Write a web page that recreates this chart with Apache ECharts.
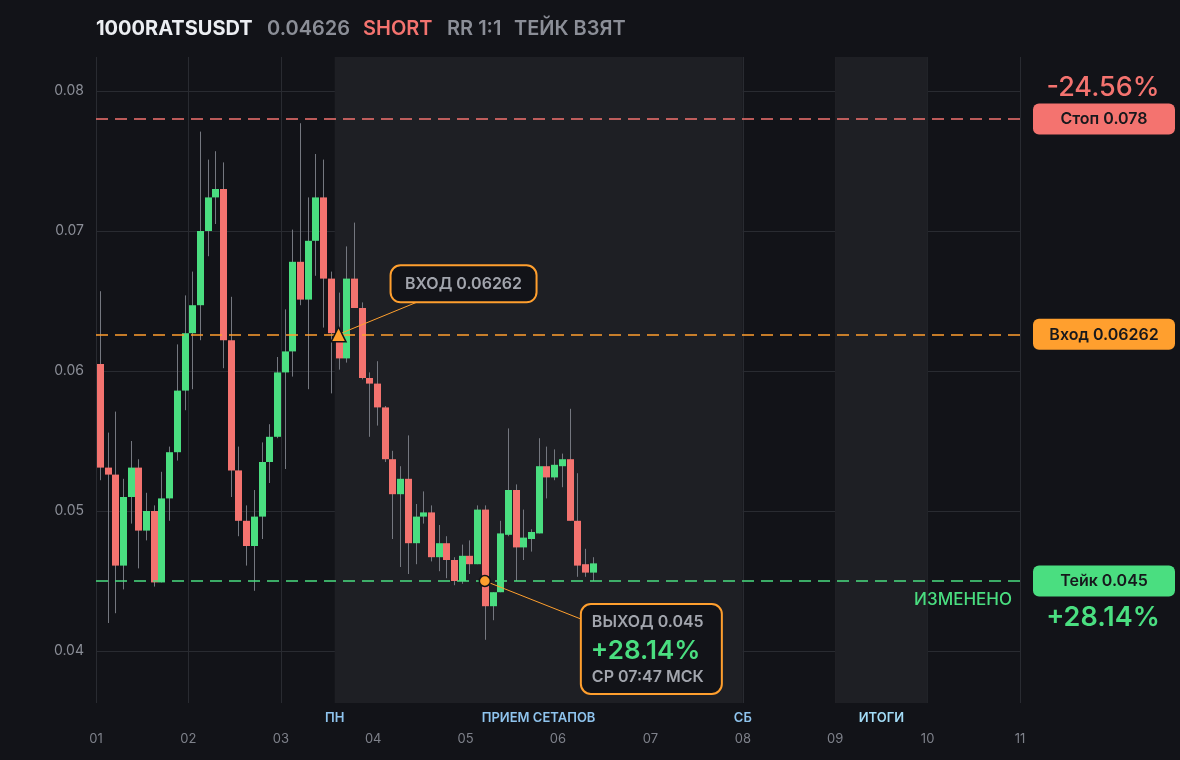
<!DOCTYPE html>
<html>
<head>
<meta charset="utf-8">
<script src="https://cdn.jsdelivr.net/npm/echarts@6/dist/echarts.min.js"></script>
<style>
html,body{margin:0;padding:0;background:#121318;}
#chart{width:1180px;height:760px;}
</style>
</head>
<body>
<div id="chart"></div>
<script>
// ---- data ----
const TICKER = '1000RATSUSDT';
const LAST_PRICE = '0.04626';
const SIDE = 'SHORT';
const RR = 'RR 1:1';
const STATUS = 'ТЕЙК ВЗЯТ';
const STOP = 0.078;
const ENTRY = 0.06262;
const TAKE = 0.045;
const STOP_PCT = '-24.56%';
const TAKE_PCT = '+28.14%';
const EXIT_TIME = 'СР 07:47 МСК';
const ENTRY_BAR = 31;
const EXIT_BAR = 50;
const BARS_PER_DAY = 12;
const DAY_TICKS = [1, 2, 3, 4, 5, 6, 7, 8, 9, 10, 11];
const SESSION_LABELS = ['ПН', 'ПРИЕМ СЕТАПОВ', 'СБ', 'ИТОГИ'];
const SESSION_AT = [3.5833, 5.79, 8, 9.5];
const SHADED = [[3.5833, 8], [9, 10]];

const OPEN  = [0.0605,0.0531,0.0526,0.0461,0.0510,0.0531,0.0486,0.0500,0.0449,0.0509,0.0542,0.0586,0.0627,0.0647,0.0700,0.0724,0.0730,0.0622,0.0529,0.0493,0.0475,0.0496,0.0535,0.0553,0.0599,0.0614,0.0678,0.0651,0.0693,0.0724,0.0666,0.0627,0.0609,0.0666,0.0645,0.0595,0.0591,0.0574,0.0537,0.0512,0.0523,0.0477,0.0496,0.0499,0.0467,0.0477,0.0465,0.0450,0.0468,0.0462,0.0501,0.0432,0.0442,0.0483,0.0515,0.0474,0.0480,0.0484,0.0532,0.0524,0.0532,0.0537,0.0493,0.0462,0.0456];
const CLOSE = [0.0531,0.0526,0.0461,0.0510,0.0531,0.0486,0.0500,0.0449,0.0509,0.0542,0.0586,0.0627,0.0647,0.0700,0.0724,0.0730,0.0622,0.0529,0.0493,0.0475,0.0496,0.0535,0.0553,0.0599,0.0614,0.0678,0.0651,0.0693,0.0724,0.0666,0.0627,0.0609,0.0666,0.0645,0.0595,0.0591,0.0574,0.0537,0.0512,0.0523,0.0477,0.0496,0.0499,0.0467,0.0477,0.0465,0.0450,0.0468,0.0462,0.0501,0.0432,0.0442,0.0484,0.0515,0.0474,0.0481,0.0485,0.0532,0.0524,0.0533,0.0537,0.0493,0.0461,0.0456,0.04626];
const LOW   = [0.0522,0.0420,0.0427,0.0444,0.0491,0.0459,0.0479,0.0446,0.0449,0.0493,0.0536,0.0572,0.0587,0.0622,0.0682,0.0705,0.0602,0.0510,0.0482,0.0461,0.0443,0.0480,0.0520,0.0552,0.0530,0.0596,0.0647,0.0587,0.0668,0.0631,0.0584,0.0601,0.0606,0.0645,0.0594,0.0553,0.0561,0.0535,0.0480,0.0460,0.0455,0.0462,0.0491,0.0464,0.0457,0.0452,0.0447,0.0448,0.0455,0.0462,0.0408,0.0422,0.0442,0.0482,0.0450,0.0465,0.0471,0.0484,0.0509,0.0522,0.0517,0.0493,0.0453,0.0453,0.0450];
const HIGH  = [0.0657,0.0556,0.0571,0.0523,0.0550,0.0537,0.0513,0.0504,0.0528,0.0546,0.0619,0.0654,0.0671,0.0771,0.0751,0.0757,0.0749,0.0653,0.0546,0.0504,0.0515,0.0549,0.0562,0.0610,0.0644,0.0701,0.0777,0.0724,0.0755,0.0751,0.0671,0.0656,0.0689,0.0706,0.0649,0.0599,0.0607,0.0575,0.0543,0.0532,0.0554,0.0505,0.0514,0.0504,0.0490,0.0482,0.0467,0.0476,0.0479,0.0504,0.0504,0.0442,0.0493,0.0559,0.0519,0.0501,0.0487,0.0552,0.0546,0.0544,0.0541,0.0573,0.0527,0.0473,0.0467];

// ---- style ----
const GREEN = '#4ade80';
const RED = '#f4736f';
const ORANGE = '#ff9f2e';
const BG = '#121318';
const SHADE = '#1e1f24';
const GRIDC = '#292b31';
const GRAY = '#8b8e97';
const FONT = 'Inter, "Noto Sans", sans-serif';

const barX = i => DAY_TICKS[0] + (i + 0.5) / BARS_PER_DAY;
const candleData = OPEN.map((o, i) => [barX(i), o, CLOSE[i], LOW[i], HIGH[i]]);

// plot area geometry
const GRID = { left: 96, right: 160, top: 57, bottom: 57 };
const Y_MIN = 0.036286, Y_MAX = 0.082429;

const chart = echarts.init(document.getElementById('chart'), null, { renderer: 'canvas' });

const dashed = c => ({ color: c, type: [12, 7], width: 1.6 });

const option = {
  backgroundColor: BG,
  animation: false,
  grid: GRID,
  xAxis: {
    type: 'value', min: DAY_TICKS[0], max: DAY_TICKS[DAY_TICKS.length - 1], interval: 1,
    axisLine: { show: false }, axisTick: { show: false },
    splitLine: { show: true, lineStyle: { color: GRIDC, width: 1 } },
    axisLabel: { color: '#7f828b', fontSize: 13, fontFamily: FONT, margin: 30,
      formatter: v => String(v).padStart(2, '0') }
  },
  yAxis: {
    type: 'value', min: Y_MIN, max: Y_MAX, scale: true,
    axisLine: { show: false }, axisTick: { show: false },
    splitLine: { show: true, showMinLine: false, showMaxLine: false, lineStyle: { color: GRIDC, width: 1 } },
    axisLabel: { color: GRAY, fontSize: 14, fontFamily: FONT, margin: 12, showMinLabel: false, showMaxLabel: false,
      formatter: v => (Math.abs(v * 100 - Math.round(v * 100)) < 1e-6 ? v.toFixed(2) : '') }
  },
  series: [
    {
      type: 'custom',
      z: 2,
      data: candleData,
      encode: { x: 0, y: [1, 2, 3, 4] },
      renderItem: function (params, api) {
        const x = api.value(0), o = api.value(1), c = api.value(2), l = api.value(3), h = api.value(4);
        const pO = api.coord([x, o]), pC = api.coord([x, c]), pL = api.coord([x, l]), pH = api.coord([x, h]);
        const px = Math.round(pO[0]) + 0.5;
        const w = 7;
        const top = Math.min(pO[1], pC[1]), bot = Math.max(pO[1], pC[1]);
        return {
          type: 'group',
          children: [
            { type: 'line', shape: { x1: px, y1: pH[1], x2: px, y2: pL[1] }, style: { stroke: '#74777f', lineWidth: 1 } },
            { type: 'rect', shape: { x: Math.round(px - w / 2), y: top, width: w, height: Math.max(bot - top, 1.5) },
              style: { fill: c >= o ? GREEN : RED } }
          ]
        };
      },
      markArea: {
        silent: true,
        itemStyle: { color: SHADE },
        data: SHADED.map(r => [{ xAxis: r[0], yAxis: Y_MIN }, { xAxis: r[1], yAxis: Y_MAX }])
      }
    },
    {
      type: 'scatter', z: 6,
      data: [
        { value: [barX(ENTRY_BAR), ENTRY], symbol: 'triangle', symbolSize: 15 },
        { value: [barX(EXIT_BAR), TAKE], symbol: 'circle', symbolSize: 11 }
      ],
      itemStyle: { color: ORANGE, borderColor: BG, borderWidth: 1.5, opacity: 1 },
      markLine: {
        silent: true, symbol: 'none', label: { show: false }, precision: 6, z: 4,
        data: [
          { yAxis: STOP, lineStyle: dashed(RED) },
          { yAxis: ENTRY, lineStyle: dashed(ORANGE) },
          { yAxis: TAKE, lineStyle: dashed(GREEN) }
        ]
      }
    }
  ]
};
chart.setOption(option);

// ---- overlay texts and annotations ----
const px = (x, y) => chart.convertToPixel({ gridIndex: 0 }, [x, y]);
const g = [];
const T = (x, y, text, color, size, weight, align) => ({
  type: 'text', x: x, y: y, z: 100,
  style: { text: text, fill: color, fontSize: size, fontWeight: weight || 600, fontFamily: FONT,
    align: align || 'left', verticalAlign: 'middle' }
});

// header
g.push(T(96, 29, TICKER, '#eceef2', 20, 700));
g.push(T(267, 29, LAST_PRICE, GRAY, 20, 600));
g.push(T(363, 29, SIDE, RED, 20, 600));
g.push(T(447, 29, RR, GRAY, 20, 600));
g.push(T(514, 29, STATUS, GRAY, 20, 600));

// session labels under plot
const bottomY = px(DAY_TICKS[0], Y_MIN)[1];
SESSION_LABELS.forEach((s, i) => {
  const p = px(SESSION_AT[i], Y_MIN);
  g.push(T(p[0], bottomY + 15, s, i === 3 ? '#a3dcf7' : '#8fc4ee', 13, 600, 'center'));
});

// right side pills
const pill = (y, text, fill) => {
  g.push({ type: 'rect', z: 99, shape: { x: 1033, y: y - 15.5, width: 142, height: 31, r: 6 }, style: { fill: fill } });
  g.push(T(1104, y + 0.5, text, '#17181c', 16, 600, 'center'));
};
const stopY = px(DAY_TICKS[0], STOP)[1];
const entryY = px(DAY_TICKS[0], ENTRY)[1];
const takeY = px(DAY_TICKS[0], TAKE)[1];
pill(stopY, 'Стоп ' + STOP, RED);
pill(entryY, 'Вход ' + ENTRY, ORANGE);
pill(takeY, 'Тейк ' + TAKE, GREEN);
g.push(T(1103, stopY - 31, STOP_PCT, RED, 27, 500, 'center'));
g.push(T(1103, takeY + 37, TAKE_PCT, GREEN, 27, 600, 'center'));
g.push(T(1012, takeY + 19, 'ИЗМЕНЕНО', GREEN, 17, 500, 'right'));

// entry annotation
const ep = px(barX(ENTRY_BAR), ENTRY);
const eb = { x: ep[0] + 52, y: ep[1] - 69, w: 146, h: 37 };
g.push({ type: 'line', z: 5, shape: { x1: ep[0], y1: ep[1], x2: eb.x + 26, y2: eb.y + eb.h }, style: { stroke: ORANGE, lineWidth: 1 } });
g.push({ type: 'rect', z: 98, shape: { x: eb.x, y: eb.y, width: eb.w, height: eb.h, r: 10 }, style: { fill: BG, stroke: ORANGE, lineWidth: 2 } });
g.push(T(eb.x + eb.w / 2, eb.y + eb.h / 2 + 0.5, 'ВХОД ' + ENTRY, '#a2a5ad', 16, 600, 'center'));

// exit annotation
const xp = px(barX(EXIT_BAR), TAKE);
const xb = { x: xp[0] + 96, y: xp[1] + 23, w: 141, h: 90 };
g.push({ type: 'line', z: 5, shape: { x1: xp[0], y1: xp[1], x2: xb.x, y2: xb.y + 15 }, style: { stroke: ORANGE, lineWidth: 1 } });
g.push({ type: 'rect', z: 98, shape: { x: xb.x, y: xb.y, width: xb.w, height: xb.h, r: 10 }, style: { fill: BG, stroke: ORANGE, lineWidth: 2 } });
g.push(T(xb.x + 11, xb.y + 18, 'ВЫХОД ' + TAKE, '#a2a5ad', 16, 600, 'left'));
g.push(T(xb.x + 10, xb.y + 47, TAKE_PCT, GREEN, 26, 600, 'left'));
g.push(T(xb.x + 11, xb.y + 73, EXIT_TIME, '#a2a5ad', 16, 600, 'left'));

chart.setOption({ graphic: g });
</script>
</body>
</html>
